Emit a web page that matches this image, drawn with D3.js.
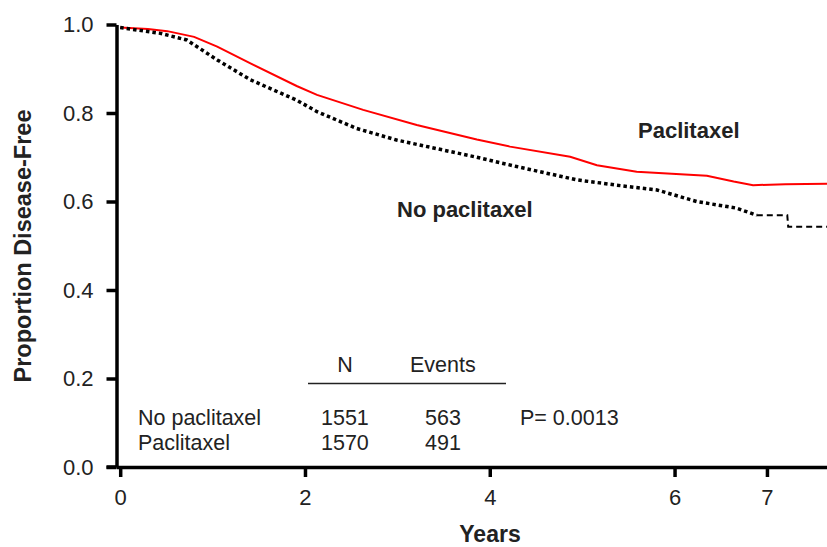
<!DOCTYPE html>
<html>
<head>
<meta charset="utf-8">
<script src="https://cdn.jsdelivr.net/npm/d3@7"></script>
<style>
  html, body { margin: 0; padding: 0; background: #fff; }
  text { font-family: "Liberation Sans", Arial, Helvetica, sans-serif; }
</style>
</head>
<body>
<svg id="chart" width="827" height="547"></svg>
<script>
// ---- data ----
const paclitaxelYears = [0, 0.3, 0.51, 0.8, 1.05, 1.41, 1.91, 2.13, 2.63, 3.21, 3.86, 4.22, 4.87, 5.16, 5.59, 6.35, 6.64, 6.85, 7.2, 7.65];
const paclitaxelProp  = [0.993, 0.990, 0.985, 0.972, 0.950, 0.912, 0.861, 0.841, 0.807, 0.773, 0.740, 0.724, 0.701, 0.682, 0.667, 0.658, 0.645, 0.637, 0.639, 0.640];
const noPacYears = [0, 0.435, 0.72, 1.05, 1.41, 1.91, 2.13, 2.56, 2.99, 3.86, 4.29, 4.94, 5.37, 5.81, 6.24, 6.67, 6.89];
const noPacProp  = [0.993, 0.980, 0.965, 0.920, 0.875, 0.829, 0.803, 0.765, 0.739, 0.700, 0.679, 0.649, 0.637, 0.626, 0.600, 0.585, 0.569];
const noPacTailYears = [6.89, 7.22, 7.23, 7.65];
const noPacTailProp  = [0.569, 0.569, 0.543, 0.543];
const xTicks = [0, 2, 4, 6, 7];
const yTicks = [0, 0.2, 0.4, 0.6, 0.8, 1.0];
const tableHeader = ["N", "Events"];
const tableRows = [
  { group: "No paclitaxel", n: 1551, events: 563 },
  { group: "Paclitaxel", n: 1570, events: 491 }
];
const pValueText = "P= 0.0013";

// ---- chart ----
const svg = d3.select("#chart");
const x = d3.scaleLinear().domain([-0.04, 7.65]).range([116.5, 827]);
const y = d3.scaleLinear().domain([0, 1]).range([467, 24.5]);

const line = d3.line().x(d => x(d[0])).y(d => y(d[1]));

// Axes
const yAxis = d3.axisLeft(y).tickValues(yTicks).tickFormat(d3.format(".1f")).tickSize(10).tickSizeOuter(0).tickPadding(13);
const gy = svg.append("g").attr("transform", `translate(${x(-0.04)},0)`).call(yAxis);
const xAxis = d3.axisBottom(x).tickValues(xTicks).tickFormat(d3.format("d")).tickSize(10).tickSizeOuter(0).tickPadding(7);
const gx = svg.append("g").attr("transform", `translate(0,${y(0)})`).call(xAxis);
[gx, gy].forEach(g => {
  g.select(".domain").attr("stroke", "#000").attr("stroke-width", 3.5);
  g.selectAll(".tick line").attr("stroke", "#000").attr("stroke-width", 3.5);
  g.selectAll(".tick text").attr("fill", "#222").style("font-size", "22px")
    .style("font-family", '"Liberation Sans", Arial, sans-serif');
});
gx.selectAll(".tick text").attr("dy", "0.95em");
gx.append("line").attr("x1", x(-0.04) - 10).attr("x2", x(-0.04)).attr("y1", 0).attr("y2", 0)
  .attr("stroke", "#000").attr("stroke-width", 3.5);

// Curves
const redData = paclitaxelYears.map((t, i) => [t, paclitaxelProp[i]]);
const blackData = noPacYears.map((t, i) => [t, noPacProp[i]]);
const tailData = noPacTailYears.map((t, i) => [t, noPacTailProp[i]]);

svg.append("path").datum(redData).attr("d", line)
  .attr("fill", "none").attr("stroke", "#ff0000").attr("stroke-width", 2);
svg.append("path").datum(blackData).attr("d", line)
  .attr("fill", "none").attr("stroke", "#000").attr("stroke-width", 3.5)
  .attr("stroke-dasharray", "3.5,3");
svg.append("path").datum(tailData).attr("d", line)
  .attr("fill", "none").attr("stroke", "#000").attr("stroke-width", 2)
  .attr("stroke-dasharray", "6,4");

// Curve labels
svg.append("text").attr("x", 638).attr("y", 138).text("Paclitaxel")
  .style("font-size", "22px").style("font-weight", "bold").attr("fill", "#222");
svg.append("text").attr("x", 397).attr("y", 217).text("No paclitaxel")
  .style("font-size", "22px").style("font-weight", "bold").attr("fill", "#222");

// Axis titles
svg.append("text").attr("x", 490).attr("y", 542).attr("text-anchor", "middle").text("Years")
  .style("font-size", "23px").style("font-weight", "bold").attr("fill", "#222");
svg.append("text").attr("transform", "translate(31,246) rotate(-90)").attr("text-anchor", "middle")
  .text("Proportion Disease-Free").style("font-size", "23.5px").style("font-weight", "bold").attr("fill", "#222");

// Table
const tfs = "21.5px";
svg.append("text").attr("x", 345).attr("y", 372).attr("text-anchor", "middle").text(tableHeader[0]).style("font-size", tfs).attr("fill", "#222");
svg.append("text").attr("x", 410).attr("y", 372).text(tableHeader[1]).style("font-size", tfs).attr("fill", "#222");
svg.append("line").attr("x1", 308).attr("x2", 506).attr("y1", 383.5).attr("y2", 383.5).attr("stroke", "#222").attr("stroke-width", 1.5);
const rowY = [425, 450];
tableRows.forEach((r, i) => {
  svg.append("text").attr("x", 138).attr("y", rowY[i]).text(r.group).style("font-size", tfs).attr("fill", "#222");
  svg.append("text").attr("x", 321).attr("y", rowY[i]).text(r.n).style("font-size", tfs).attr("fill", "#222");
  svg.append("text").attr("x", 425).attr("y", rowY[i]).text(r.events).style("font-size", tfs).attr("fill", "#222");
});
svg.append("text").attr("x", 520).attr("y", rowY[0]).text(pValueText).style("font-size", tfs).attr("fill", "#222");
</script>
</body>
</html>
